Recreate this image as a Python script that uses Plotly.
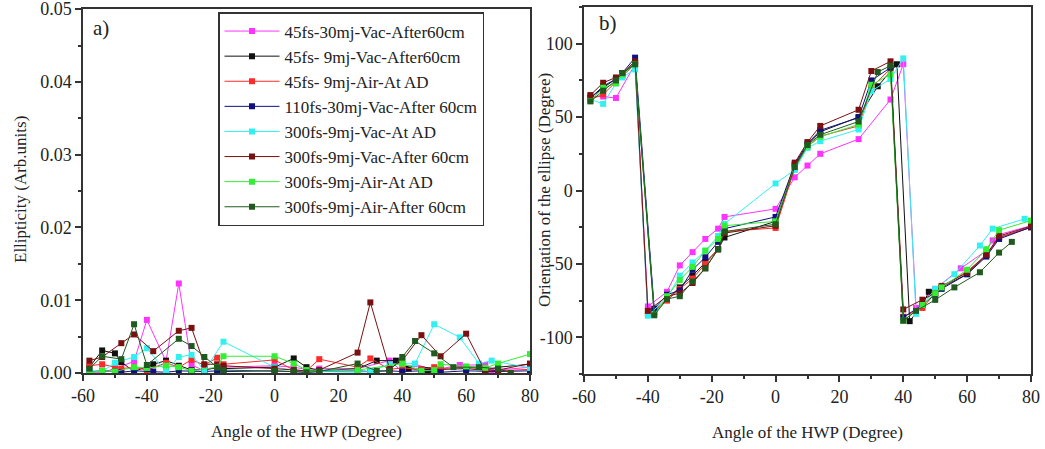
import plotly.graph_objects as go

NAMES = ["45fs-30mj-Vac-After60cm", "45fs- 9mj-Vac-After60cm", "45fs- 9mj-Air-At AD",
         "110fs-30mj-Vac-After 60cm", "300fs-9mj-Vac-At AD", "300fs-9mj-Vac-After 60cm",
         "300fs-9mj-Air-At AD", "300fs-9mj-Air-After 60cm"]
COLORS = ["#ff33ff", "#111111", "#ff2a2a", "#101080", "#33f0f0", "#7a1010", "#33ee33", "#1f5a1f"]

# ---- panel a) ellipticity ----
A_X_MAG = [-58, -54, -50, -44, -40, -34, -30, -26, -22, -18, -16, 0, 6, 10, 14, 26, 36, 40, 44, 50, 58, 66, 68, 70, 80]
A_Y_MAG = [0.0001, 0.0001, 0.0006, 0.0016, 0.0073, 0.0016, 0.0123, 0.0011, 0.0003, 0.0008, 0.0008, 0.001, 0.0008,
           0.0005, 0.0006, 0.0006, 0.0017, 0.0002, 0.0012, 0.0004, 0.0011, 0.0011, 0.0002, 0.0004, 0.0008]
A_X_BLK = [-58, -54, -50, -48, -44, -38, -34, -30, -26, -22, -18, -16, 0, 6, 10, 14, 26, 32, 38, 42, 46, 48, 52, 60, 66, 70, 80]
A_Y_BLK = [0.0008, 0.0031, 0.0027, 0.0015, 0.0002, 0.0012, 0.0017, 0.001, 0.0004, 0.0005, 0.0007, 0.0006, 0.0008,
           0.002, 0.0008, 0.0003, 0.0006, 0.0017, 0.0017, 0.0006, 0.0005, 0.0004, 0.0005, 0.0006, 0.0004, 0.0008, 0.0012]
A_X_RED = [-58, -54, -50, -48, -44, -40, -34, -30, -26, -22, -18, -16, 0, 6, 10, 14, 26, 30, 36, 40, 46, 50, 52, 60, 66, 70, 80]
A_Y_RED = [0.001, 0.0012, 0.0008, 0.0006, 0.0008, 0.0004, 0.0014, 0.0008, 0.0018, 0.0011, 0.0021, 0.0012, 0.0018,
           0.0004, 0.0003, 0.0019, 0.0008, 0.002, 0.0005, 0.0007, 0.0005, 0.0008, 0.0006, 0.0008, 0.0005, 0.0003, 0.0005]
A_X_NAV = [-58, -54, -50, -48, -44, -38, -34, -30, -26, -22, -18, -16, 0, 6, 10, 14, 26, 30, 36, 40, 46, 50, 52, 60, 66, 70, 80]
A_Y_NAV = [0.0002, 0.0003, 0.0002, 0.0001, 0.0003, 0.0002, 0.0001, 0.0003, 0.0002, 0.0002, 0.0003, 0.0002, 0.0003,
           0.0002, 0.0001, 0.0002, 0.0003, 0.0002, 0.0003, 0.0002, 0.0003, 0.0002, 0.0001, 0.0003, 0.0002, 0.0002, 0.0003]
A_X_CYN = [-58, -54, -50, -44, -40, -34, -30, -26, -22, -16, 0, 6, 10, 14, 26, 30, 36, 40, 44, 50, 58, 64, 68, 80]
A_Y_CYN = [0.0003, 0.0002, 0.0014, 0.0022, 0.0034, 0.0002, 0.0022, 0.0025, 0.0003, 0.0043, 0.0008, 0.0004, 0.0003,
           0.0002, 0.0001, 0.0002, 0.0012, 0.0013, 0.0013, 0.0067, 0.0049, 0.0013, 0.0017, 0.0007]
A_X_DRD = [-58, -54, -48, -44, -38, -30, -26, -22, -18, -16, 0, 6, 10, 14, 26, 30, 36, 40, 46, 52, 60, 66, 70, 80]
A_Y_DRD = [0.0017, 0.0022, 0.0041, 0.0053, 0.003, 0.0058, 0.0062, 0.0012, 0.0012, 0.001, 0.0006, 0.0004, 0.0003,
           0.0004, 0.0028, 0.0097, 0.0006, 0.0017, 0.0052, 0.0023, 0.0054, 0.0002, 0.0004, 0.0013]
A_X_GRN = [-58, -54, -50, -44, -40, -34, -30, -26, -18, -16, 0, 6, 10, 26, 40, 46, 50, 52, 60, 66, 70, 80]
A_Y_GRN = [0.0, 0.0003, 0.0002, 0.0008, 0.0007, 0.001, 0.0008, 0.0003, 0.0008, 0.0023, 0.0023, 0.0013, 0.0004,
           0.0004, 0.0013, 0.0003, 0.0004, 0.0012, 0.0009, 0.0007, 0.0013, 0.0026]
A_X_DGR = [-58, -54, -48, -44, -40, -30, -26, -22, -18, -16, 0, 6, 10, 14, 26, 32, 36, 40, 44, 50, 56, 64, 70, 74]
A_Y_DGR = [0.0006, 0.0023, 0.0019, 0.0067, 0.0011, 0.0047, 0.0037, 0.0022, 0.0008, 0.0004, 0.0003, 0.0002, 0.0001,
           0.0002, 0.0013, 0.0003, 0.0003, 0.0022, 0.0044, 0.0027, 0.0008, 0.0008, 0.0006, 0.0]

# ---- panel b) orientation ----
B_X_MAG = [-58, -54, -50, -44, -40, -34, -30, -26, -22, -18, -16, 0, 6, 10, 14, 26, 36, 40, 44, 50, 58, 66, 68, 70, 80]
B_Y_MAG = [64, 64, 63, 86, -79, -69, -51, -42, -33, -26, -18, -12.5, 9, 17, 25, 35, 62, 86, -80, -67, -53, -41, -34, -30, -24]
B_X_BLK = [-58, -54, -50, -48, -44, -38, -34, -30, -26, -22, -18, -16, 0, 6, 10, 14, 26, 32, 38, 42, 46, 48, 52, 60, 66, 70, 80]
B_Y_BLK = [63, 70, 76, 79, 87, -83, -74, -66, -58, -49, -40, -32, -21, 17, 31, 40, 50, 71, 86, -89, -78, -69, -66, -57, -44, -32, -25]
B_X_RED = [-58, -54, -50, -48, -44, -40, -34, -30, -26, -22, -18, -16, 0, 6, 10, 14, 26, 30, 36, 40, 46, 50, 52, 60, 66, 70, 80]
B_Y_RED = [62, 65.5, 74, 78, 86, -84, -75, -67, -60, -50, -40, -28, -25.5, 15, 30, 37, 44, 70, 83, -86, -80, -70, -66, -55, -44, -32, -25]
B_X_NAV = [-58, -54, -50, -48, -44, -38, -34, -30, -26, -22, -18, -16, 0, 6, 10, 14, 26, 30, 36, 40, 46, 50, 52, 60, 66, 70, 80]
B_Y_NAV = [63, 71, 76, 80, 90.5, -80.5, -71, -68, -54, -45.5, -35, -26, -18, 18, 32, 41, 49.6, 75, 83.7, -86.4, -78, -71, -67, -57, -45, -33, -25]
B_X_CYN = [-58, -54, -50, -48, -44, -40, -34, -30, -26, -22, -18, -16, 0, 6, 10, 14, 26, 30, 36, 40, 44, 50, 56, 64, 68, 78]
B_Y_CYN = [62, 59, 73, 77, 82.5, -85.3, -73, -58, -49, -41, -31, -22.7, 4.8, 14, 29, 33.6, 41.6, 67.7, 76, 90, -84, -67, -57, -37.5, -26, -19.3]
B_X_DRD = [-58, -54, -50, -48, -44, -40, -34, -30, -26, -22, -18, -16, 0, 6, 10, 14, 26, 30, 36, 40, 46, 50, 52, 60, 66, 70, 80]
B_Y_DRD = [65, 73.4, 77, 80, 88, -82, -72, -70, -63, -53, -40, -29, -24, 19, 33, 44, 55, 81.4, 88, -81, -74.4, -70, -65, -56, -43.7, -31, -24.3]
B_X_GRN = [-58, -54, -50, -48, -44, -38, -34, -30, -26, -22, -18, -16, 0, 6, 10, 14, 26, 30, 36, 40, 46, 50, 52, 60, 66, 70, 80]
B_Y_GRN = [61, 70, 73, 79, 86, -84.6, -72, -61, -52, -41, -33, -24, -21, 16, 30, 36.6, 45, 72, 79, -88.7, -78, -70, -66, -54, -40, -27, -20.5]
B_X_DGR = [-58, -54, -50, -48, -44, -38, -34, -30, -26, -22, -18, -16, 0, 6, 10, 14, 26, 32, 36, 40, 44, 50, 56, 64, 70, 74]
B_Y_DGR = [60.7, 68, 75, 80, 86, -85, -74, -72, -62, -53, -40, -28, -23, 16, 31, 38, 47, 80.7, 85, -88.7, -82, -74.5, -66, -55.7, -42.3, -35]

X_TICKS = [-60, -40, -20, 0, 20, 40, 60, 80]
X_TICK_LABELS = ["-60", "-40", "-20", "0", "20", "40", "60", "80"]
A_Y_TICKS = [0.0, 0.01, 0.02, 0.03, 0.04, 0.05]
A_Y_TICK_LABELS = ["0.00", "0.01", "0.02", "0.03", "0.04", "0.05"]
B_Y_TICKS = [-100, -50, 0, 50, 100]
B_Y_TICK_LABELS = ["-100", "-50", "0", "50", "100"]

A_DATA = [(A_X_MAG, A_Y_MAG), (A_X_BLK, A_Y_BLK), (A_X_RED, A_Y_RED), (A_X_NAV, A_Y_NAV),
          (A_X_CYN, A_Y_CYN), (A_X_DRD, A_Y_DRD), (A_X_GRN, A_Y_GRN), (A_X_DGR, A_Y_DGR)]
B_DATA = [(B_X_MAG, B_Y_MAG), (B_X_BLK, B_Y_BLK), (B_X_RED, B_Y_RED), (B_X_NAV, B_Y_NAV),
          (B_X_CYN, B_Y_CYN), (B_X_DRD, B_Y_DRD), (B_X_GRN, B_Y_GRN), (B_X_DGR, B_Y_DGR)]

FONT = "Liberation Serif, Times New Roman, serif"
W, H = 1045, 449

fig = go.Figure()
for i, (name, col) in enumerate(zip(NAMES, COLORS)):
    ax, ay = A_DATA[i]
    bx, by = B_DATA[i]
    fig.add_trace(go.Scatter(x=ax, y=ay, mode="lines+markers", name=name, legendgroup=name,
                             line=dict(color=col, width=1), marker=dict(symbol="square", size=6, color=col),
                             xaxis="x", yaxis="y"))
    fig.add_trace(go.Scatter(x=bx, y=by, mode="lines+markers", name=name, legendgroup=name, showlegend=False,
                             line=dict(color=col, width=1), marker=dict(symbol="square", size=6, color=col),
                             xaxis="x2", yaxis="y2"))

def px_x(p):
    return p / W

def px_y(p):
    return 1 - p / H

axis_common = dict(showline=True, linecolor="#333333", linewidth=1.5, mirror=True, ticks="outside",
                   ticklen=6, tickwidth=1.5, tickcolor="#333333", showgrid=False, zeroline=False,
                   automargin=False, ticklabeloverflow="allow",
                   tickfont=dict(family=FONT, size=18, color="#222222"),
                   title_font=dict(family=FONT, size=17, color="#222222"))

TITLE_FONT = dict(family=FONT, size=17, color="#222222")

fig.update_layout(
    width=W, height=H, margin=dict(l=0, r=0, t=0, b=0, autoexpand=False),
    paper_bgcolor="white", plot_bgcolor="white",
    font=dict(family=FONT, color="#222222"),
    xaxis=dict(domain=[px_x(83), px_x(530)], range=[-60, 80], tickvals=X_TICKS, ticktext=X_TICK_LABELS,
               minor=dict(ticks="outside", ticklen=3, dtick=10, tick0=-60, tickcolor="#333333"),
               title=dict(text="Angle of the HWP (Degree)", standoff=20), anchor="y", **axis_common),
    yaxis=dict(domain=[px_y(373), px_y(9)], range=[0, 0.05002], tickvals=A_Y_TICKS, ticktext=A_Y_TICK_LABELS,
               minor=dict(ticks="outside", ticklen=3, dtick=0.005, tick0=0, tickcolor="#333333"),
               anchor="x", **axis_common),
    xaxis2=dict(domain=[px_x(584), px_x(1031)], range=[-60, 80], tickvals=X_TICKS, ticktext=X_TICK_LABELS,
                minor=dict(ticks="outside", ticklen=3, dtick=10, tick0=-60, tickcolor="#333333"),
                title=dict(text="Angle of the HWP (Degree)", standoff=20), anchor="y2", **axis_common),
    yaxis2=dict(domain=[px_y(374), px_y(7)], range=[-125, 125], tickvals=B_Y_TICKS, ticktext=B_Y_TICK_LABELS,
                minor=dict(ticks="outside", ticklen=3, dtick=25, tick0=0, tickcolor="#333333"),
                anchor="x2", **axis_common),
    legend=dict(x=px_x(218), y=px_y(12), xanchor="left", yanchor="top", bgcolor="white",
                bordercolor="#333333", borderwidth=1.5, font=dict(family=FONT, size=17, color="#222222"),
                tracegroupgap=0, itemwidth=55),
    showlegend=True,
    annotations=[
        dict(text="a)", x=px_x(91), y=px_y(28), xref="paper", yref="paper", xanchor="left", yanchor="middle",
             showarrow=False, font=dict(family=FONT, size=21, color="#222222")),
        dict(text="b)", x=px_x(597), y=px_y(23), xref="paper", yref="paper", xanchor="left", yanchor="middle",
             showarrow=False, font=dict(family=FONT, size=21, color="#222222")),
        dict(text="Ellipticity (Arb.units)", x=px_x(20), y=px_y(190), xref="paper", yref="paper",
             xanchor="center", yanchor="middle", textangle=-90, showarrow=False, font=TITLE_FONT),
        dict(text="Orientation of the ellipse (Degree)", x=px_x(544), y=px_y(190), xref="paper", yref="paper",
             xanchor="center", yanchor="middle", textangle=-90, showarrow=False, font=TITLE_FONT),
    ],
)

fig.write_html("out.html", config={"displayModeBar": False},
               post_script="document.body.style.margin='0';document.body.style.overflow='hidden';")
